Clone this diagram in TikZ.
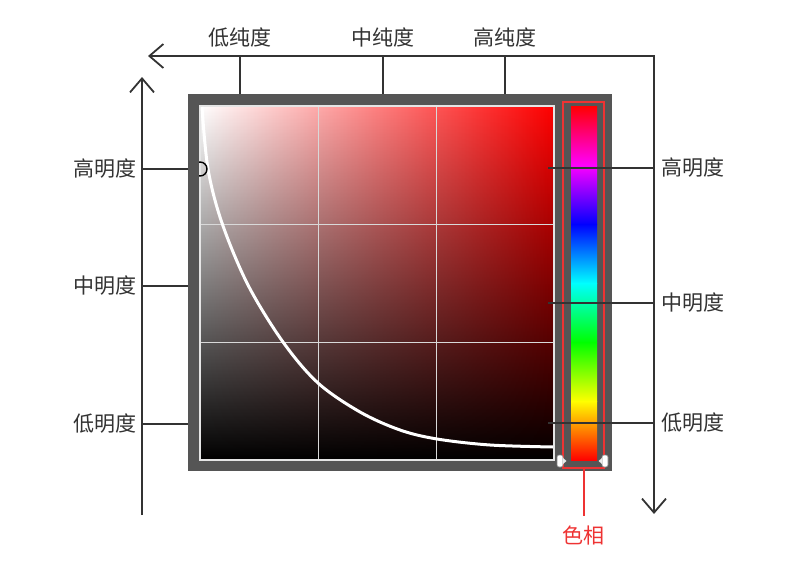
\documentclass[tikz,border=0pt]{standalone}
\usepackage{fontspec}
\setmainfont{Noto Sans CJK SC}
\usepackage{tikz}
\usetikzlibrary{positioning, arrows.meta, fadings}
\definecolor{axisgray}{HTML}{333333}
\definecolor{framegray}{HTML}{555555}
\definecolor{huered}{HTML}{EE3333}
\tikzfading[name=fade down, top color=transparent!100, bottom color=transparent!0]

\begin{document}
\begin{tikzpicture}[x=0.5pt, y=-0.5pt,
        lbl/.style={inner sep=0pt, font=\fontsize{10.5}{12}\selectfont, text=axisgray},
        axis/.style={draw=axisgray, line width=0.9pt},
        arrow/.style={-{Straight Barb[length=7pt, width=12pt]}},
        twoway/.style={{Straight Barb[length=7pt, width=12pt]}-{Straight Barb[length=7pt, width=12pt]}},
        frame/.style={rectangle, fill=framegray, inner sep=0pt},
        gridline/.style={draw=white!85!black, line width=0.5pt},
        huebox/.style={rectangle, draw=huered, line width=1pt, inner sep=0pt}
    ]
        \useasboundingbox (0,0) rectangle (800,578);

        % axes
        \coordinate (satEnd) at (148,56);
        \coordinate (corner) at (654,56);
        \coordinate (briEnd) at (654,514);
        \coordinate (leftFoot) at (142,515);
        \coordinate (leftTip) at (142,77);
        \draw[axis, twoway] (satEnd) -- (corner) -- (briEnd);
        \draw[axis, arrow] (leftFoot) -- (leftTip);

        % picker frame
        \node[frame, minimum width=212pt, minimum height=188.5pt] (frame) at (400,282.5) {};

        \shade[left color=white, right color=red] (200,106) rectangle (554,460);
        \fill[black, path fading=fade down] (200,106) rectangle (554,460);
        \foreach \gx in {318,436}
            \draw[gridline] (\gx,106) -- (\gx,460);
        \foreach \gy in {224,342}
            \draw[gridline] (200,\gy) -- (554,\gy);
        \draw[white!90!black, line width=0.6pt] (200,106) rectangle (554,460);

        \draw[white, line width=1.5pt] plot[smooth, tension=0.55] coordinates {(202,107) (208,169) (222,223) (248,285) (283,342) (318,383) (360,412) (400,430) (437,439) (490,445) (553,447)};
        \begin{scope}
            \clip (199,106) rectangle (554,460);
            \draw[black, line width=0.7pt] (200,169) circle[radius=3.5pt];
        \end{scope}

        % hue strip
        \foreach \ya/\yb/\ca/\cb in {106/165/red/magenta, 165/224/magenta/blue, 224/283/blue/cyan, 283/342/cyan/green, 342/401/green/yellow, 401/460/yellow/red}
            \shade[top color=\ca, bottom color=\cb] (571,\ya) rectangle (597,\yb+0.5);
        \node[huebox, minimum width=20.5pt, minimum height=183pt] (hue) at (583.5,285) {};
        \foreach \hx/\dir in {560/1, 605/-1} {
            \filldraw[fill=white, draw=gray, line width=0.3pt, rounded corners=1pt] (\hx-3,455) rectangle (\hx+3,467);
            \fill[white!92!black] (\hx+3*\dir,458) -- (\hx+6.5*\dir,461) -- (\hx+3*\dir,464) -- cycle;
        }
        \node[lbl, text=huered, below=28pt of hue] (hueLbl) {色相};
        \draw[huered, line width=1pt, shorten >=4.5pt] (hue.south) -- (hueLbl.north);

        % saturation ticks
        \coordinate (loS) at (240,56);
        \coordinate (midS) at (383,56);
        \coordinate (hiS) at (505,56);
        \draw[axis] (loS) -- (loS |- frame.north);
        \draw[axis] (midS) -- (midS |- frame.north);
        \draw[axis] (hiS) -- (hiS |- frame.north);
        \node[lbl, above=4pt of loS] (loSLbl) {低纯度};
        \node[lbl, above=4pt of midS] (midSLbl) {中纯度};
        \node[lbl, above=4pt of hiS] (hiSLbl) {高纯度};

        % brightness ticks, left
        \coordinate (hiL) at (142,169);
        \coordinate (midL) at (142,286);
        \coordinate (loL) at (142,424);
        \draw[axis] (hiL) -- (hiL -| frame.west);
        \draw[axis] (midL) -- (midL -| frame.west);
        \draw[axis] (loL) -- (loL -| frame.west);
        \node[lbl, left=2.5pt of hiL] (hiLLbl) {高明度};
        \node[lbl, left=2.5pt of midL] (midLLbl) {中明度};
        \node[lbl, left=2.5pt of loL] (loLLbl) {低明度};

        % brightness ticks, right
        \coordinate (tickEnd) at (548,106);
        \coordinate (hiR) at (654,168);
        \coordinate (midR) at (654,303);
        \coordinate (loR) at (654,423);
        \draw[axis] (hiR) -- (hiR -| tickEnd);
        \draw[axis] (midR) -- (midR -| tickEnd);
        \draw[axis] (loR) -- (loR -| tickEnd);
        \node[lbl, right=3.5pt of hiR] (hiRLbl) {高明度};
        \node[lbl, right=3.5pt of midR] (midRLbl) {中明度};
        \node[lbl, right=3.5pt of loR] (loRLbl) {低明度};
    \end{tikzpicture}
\end{document}
